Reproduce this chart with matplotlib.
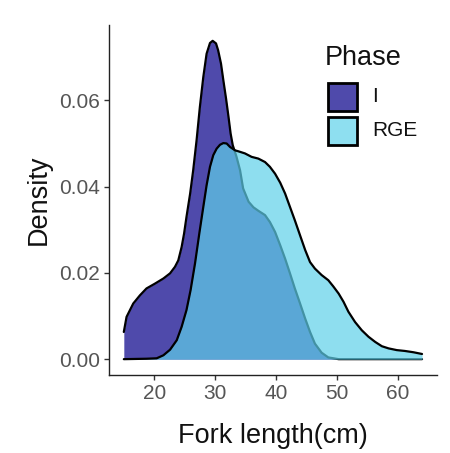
import matplotlib
matplotlib.use("Agg")
import matplotlib.pyplot as plt
from matplotlib.patches import Rectangle

plt.rcParams['font.family'] = ['Liberation Sans', 'DejaVu Sans']

# Data (density estimates)
phase_labels = ["I", "RGE"]
legend_title = "Phase"
x_I = [15, 15.45, 16.55, 17.65, 18.73, 20.1, 21.5, 22.6, 23.4, 23.95, 24.5, 24.9, 25.3,
       25.9, 26.4, 26.96, 27.5, 28.06, 28.6, 29.16, 29.6, 30.15, 30.5, 30.97, 31.35,
       31.8, 32.2, 32.55, 32.9, 33.5, 34.1, 34.6, 35.5, 36.3, 37.1, 38.2, 39.0, 39.85,
       40.7, 41.5, 42.3, 43.1, 43.96, 44.8, 45.6, 46.4, 47.5, 48.6, 50.3, 55, 60, 64]
y_I = [0.0063, 0.0098, 0.0129, 0.0148, 0.0164, 0.0175, 0.0187, 0.0199, 0.0214, 0.0229,
       0.0260, 0.0291, 0.0330, 0.0384, 0.0438, 0.0508, 0.0585, 0.0654, 0.0708, 0.0733,
       0.0738, 0.0732, 0.0716, 0.0685, 0.0647, 0.0604, 0.0562, 0.0523, 0.0496, 0.0470,
       0.0438, 0.0396, 0.0365, 0.0352, 0.0344, 0.0334, 0.0318, 0.0295, 0.0264, 0.0233,
       0.0199, 0.0164, 0.0129, 0.0094, 0.0063, 0.0036, 0.0015, 0.0004, 0.0, 0.0, 0.0, 0.0]
x_RGE = [15, 18.7, 20.4, 21.5, 22.6, 23.7, 24.5, 25.3, 25.97, 26.7, 27.4, 28.06, 28.6,
         29.16, 29.7, 30.25, 30.8, 31.35, 31.9, 32.45, 33.3, 33.8, 34.9, 36.0, 37.1,
         38.2, 39.0, 39.85, 40.7, 41.5, 42.3, 43.1, 43.96, 44.8, 45.6, 46.4, 47.5, 48.6,
         49.4, 50.3, 51.1, 51.9, 53.0, 54.1, 55.2, 56.3, 57.4, 58.5, 59.85, 61.2, 62.6, 64]
y_RGE = [0.0, 0.0001, 0.0002, 0.0009, 0.0022, 0.0044, 0.0075, 0.0114, 0.0160, 0.0222,
         0.0291, 0.0353, 0.0403, 0.0446, 0.0473, 0.0488, 0.0497, 0.0501, 0.0500, 0.0492,
         0.0484, 0.0482, 0.0477, 0.0469, 0.0465, 0.0457, 0.0446, 0.0430, 0.0409, 0.0384,
         0.0353, 0.0322, 0.0287, 0.0253, 0.0225, 0.0210, 0.0195, 0.0183, 0.0169, 0.0152,
         0.0133, 0.0110, 0.0086, 0.0067, 0.0052, 0.0040, 0.0030, 0.0025, 0.0021, 0.0019,
         0.0016, 0.0012]
x_ticks = [20, 30, 40, 50, 60]
y_ticks = [0.00, 0.02, 0.04, 0.06]

col_I = "#4F4AAB"
col_RGE = "#5FD0E9"
col_RGE_key = "#8EDFF0"
alpha_RGE = 0.7

W, H = 450, 453
fig = plt.figure(figsize=(W / 100, H / 100), dpi=100)
ax = fig.add_axes([0.242, 0.172, 0.729, 0.773])

ax.fill_between(x_I, y_I, 0, color=col_I, lw=0, zorder=1)
ax.plot(x_I, y_I, color="black", lw=1.6, solid_joinstyle="round",
        solid_capstyle="round", zorder=2)
ax.fill_between(x_RGE, y_RGE, 0, color=col_RGE, alpha=alpha_RGE, lw=0, zorder=3)
ax.plot(x_RGE, y_RGE, color="black", lw=1.6, solid_joinstyle="round",
        solid_capstyle="round", zorder=4)

ymax = max(y_I)
ax.set_xlim(15 - 0.05 * 49, 64 + 0.05 * 49)
ax.set_ylim(-0.05 * ymax, ymax * 1.05)
ax.set_xticks(x_ticks)
ax.set_yticks(y_ticks)
ax.set_yticklabels([f"{v:.2f}" for v in y_ticks])

for s in ["top", "right"]:
    ax.spines[s].set_visible(False)
for s in ["left", "bottom"]:
    ax.spines[s].set_color("#222222")
    ax.spines[s].set_linewidth(1.0)
ax.tick_params(axis="both", colors="#333333", labelcolor="#555555", labelsize=15,
               length=3.5, width=1.0, pad=3)

ax.set_xlabel("Fork length(cm)", fontsize=19.5, color="#111111", labelpad=14)
ax.set_ylabel("Density", fontsize=19.5, color="#111111", labelpad=5)

# Legend drawn manually (ggplot-style keys)
key_cols = [col_I, col_RGE_key]
key_x, key_w, key_h = 328, 29, 28
key_tops = [83, 117]
for lab, col, top in zip(phase_labels, key_cols, key_tops):
    fig.add_artist(Rectangle((key_x / W, 1 - (top + key_h) / H), key_w / W, key_h / H,
                             transform=fig.transFigure, facecolor=col,
                             edgecolor="black", lw=2.0))
    fig.text(372 / W, 1 - (top + key_h / 2) / H, lab, fontsize=15, color="#111111",
             ha="left", va="center")
fig.text(325 / W, 1 - 65 / H, legend_title, fontsize=19.5, color="#111111",
         ha="left", va="baseline")

fig.savefig("out.png", dpi=100)
